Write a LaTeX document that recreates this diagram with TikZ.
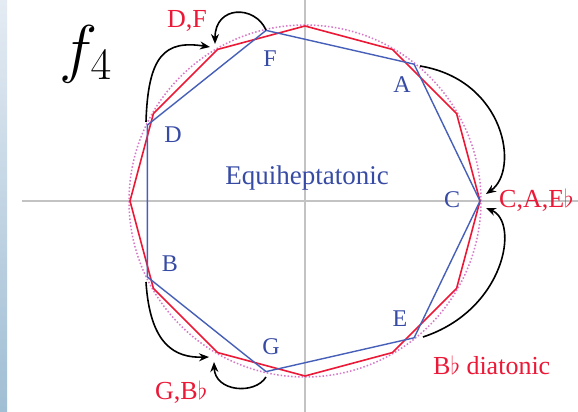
\documentclass[tikz,border=0pt]{standalone}
\usepackage{fontspec}
\setmainfont{Liberation Serif}
\usetikzlibrary{arrows.meta,calc}
\definecolor{bluetxt}{RGB}{55,75,165}
\definecolor{blueline}{RGB}{70,95,185}
\definecolor{redc}{RGB}{235,25,55}
\definecolor{dotc}{RGB}{215,120,200}
\definecolor{axisc}{RGB}{195,195,195}
\definecolor{stripTop}{RGB}{228,235,243}
\definecolor{stripBot}{RGB}{160,190,212}
\tikzset{
  axisline/.style={axisc,line width=1.4pt},
  dotcircle/.style={dotc,dotted,line width=1.5pt},
  redpoly/.style={redc,line width=1.6pt,line join=miter},
  bluepoly/.style={blueline,line width=1.4pt,line join=miter},
  curvearrow/.style={black,line width=1.6pt,-{Stealth[length=10pt,width=8pt]}},
  notelbl/.style={text=bluetxt,font=\fontsize{24}{26}\selectfont,anchor=base,inner sep=0pt},
  redlbl/.style={text=redc,font=\fontsize{26}{28}\selectfont,inner sep=0pt},
}
\begin{document}
\begin{tikzpicture}[x=1pt,y=1pt]
\useasboundingbox (0,0) rectangle (578,412);
\fill[white] (0,0) rectangle (578,412);
\shade[top color=stripTop,bottom color=stripBot] (0,0) rectangle (7,412);
% axes
\coordinate (O) at (305,211);
\draw[axisline] (22,211) -- (578,211);
\draw[axisline] (305,0) -- (305,412);
% dotted circle
\draw[dotcircle] (O) circle (176);
% red 12-gon (B-flat diatonic)
\draw[redpoly] (480,211)
  \foreach \k in {1,...,11} { -- ($(O)+(\k*30:175)$) } -- cycle;
% blue heptagon vertices
\coordinate (C) at ($(O)+(0:175)$);
\coordinate (A) at ($(O)+(360/7:175)$);
\coordinate (F) at ($(O)+(720/7:175)$);
\coordinate (D) at ($(O)+(1080/7:175)$);
\coordinate (B) at ($(O)+(1440/7:175)$);
\coordinate (G) at ($(O)+(1800/7:175)$);
\coordinate (E) at ($(O)+(2160/7:175)$);
\draw[bluepoly] (C) -- (A) -- (F) -- (D) -- (B) -- (G) -- (E) -- cycle;
% arrow targets
\coordinate (DFtipL) at (210,365);
\coordinate (DFtipT) at (215,368);
\coordinate (CtipT) at (486,218);
\coordinate (CtipB) at (486,204);
\coordinate (GBtipL) at (209,55);
\coordinate (GBtipB) at (214,50);
\coordinate (Dst) at (146,290);
\coordinate (Fst) at (266,382);
\coordinate (Ast) at (420,346);
\coordinate (Est) at (423,75);
\coordinate (Bst) at (146,130);
\coordinate (Gst) at (266,35);
% curved arrows
\draw[curvearrow] (Dst) .. controls (148,357) and (165,372) .. (DFtipL);
\draw[curvearrow] (Fst) .. controls (255,407) and (215,407) .. (DFtipT);
\draw[curvearrow] (Ast) .. controls (505,332) and (520,242) .. (CtipT);
\draw[curvearrow] (Est) .. controls (505,102) and (520,190) .. (CtipB);
\draw[curvearrow] (Bst) .. controls (150,67) and (175,54) .. (GBtipL);
\draw[curvearrow] (Gst) .. controls (255,17) and (215,20) .. (GBtipB);
% blue note labels
\node[notelbl] (lF) at (270,345) {F};
\node[notelbl] (lA) at (402,319) {A};
\node[notelbl] (lD) at (173,269) {D};
\node[notelbl] (lC) at (452,204) {C};
\node[notelbl] (lB) at (170,140) {B};
\node[notelbl] (lG) at (271,57) {G};
\node[notelbl] (lE) at (400,85) {E};
\node[text=bluetxt,font=\fontsize{27}{29}\selectfont,anchor=base,inner sep=0pt] (eq) at (307,227) {Equiheptatonic};
% red labels
\node[redlbl,anchor=base] (lDF) at (187,384) {D,F};
\node[redlbl,anchor=base west] (lCAE) at (499,204) {C,A,E$\flat$};
\node[redlbl,anchor=base west] (lGB) at (155,12) {G,B$\flat$};
\node[redlbl,anchor=base west] (lBd) at (433,37) {B$\flat$ diatonic};
% title
\node[font=\fontsize{24}{26}\selectfont,inner sep=0pt,scale=2.6] (title) at (86,358) {$f_4$};
\end{tikzpicture}
\end{document}
